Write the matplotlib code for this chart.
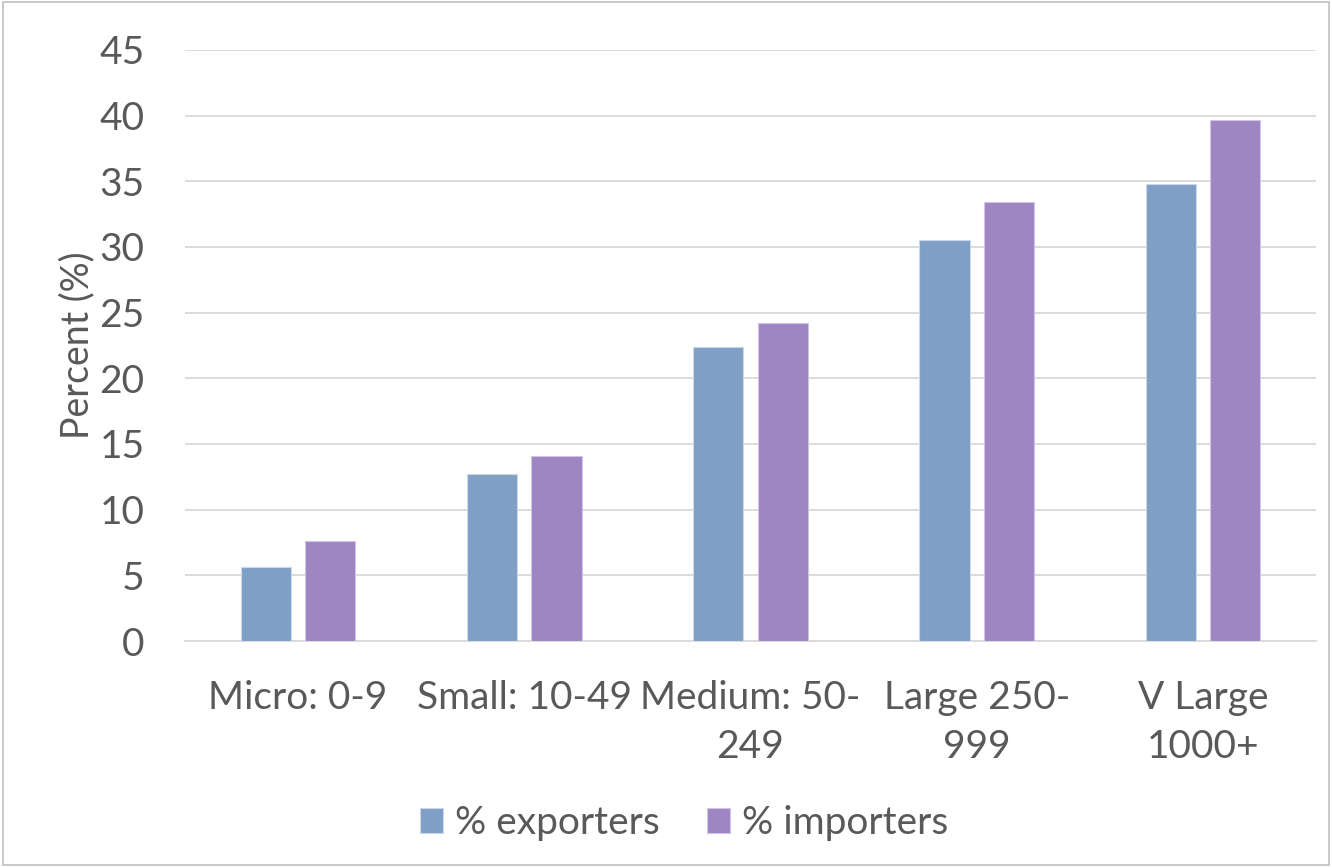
import numpy as np
import matplotlib.pyplot as plt
from matplotlib.patches import Rectangle

categories = ['Micro: 0-9', 'Small: 10-49', 'Medium: 50-\n249', 'Large 250-\n999', 'V Large\n1000+']
exporters = [5.6, 12.7, 22.4, 30.5, 34.8]
importers = [7.6, 14.1, 24.2, 33.4, 39.7]

TEXT = '#595959'
plt.rcParams['font.family'] = ['Lato', 'DejaVu Sans']

fig = plt.figure(figsize=(13.32, 8.67), dpi=100)
ax = fig.add_axes([185 / 1332, 1 - 641 / 867, 1131 / 1332, 591 / 867])

x = np.arange(len(categories))
w = 0.222
gap = 0.062
ax.bar(x - (w + gap) / 2, exporters, w, color='#7F9FC4', edgecolor='#C9D8EA', linewidth=0.8,
       label='% exporters', zorder=3)
ax.bar(x + (w + gap) / 2, importers, w, color='#9E86C2', edgecolor='#D2C4E6', linewidth=0.8,
       label='% importers', zorder=3)

ax.set_xlim(-0.5, 4.5)
ax.set_ylim(0, 45)
ax.set_yticks(np.arange(0, 46, 5))
ax.grid(axis='y', color='#D9D9D9', linewidth=1.3, zorder=0)
for s in ['top', 'right', 'left']:
    ax.spines[s].set_visible(False)
ax.spines['bottom'].set_color('#D9D9D9')
ax.spines['bottom'].set_linewidth(1.3)
ax.tick_params(length=0, labelsize=28, labelcolor=TEXT)
ax.tick_params(axis='y', pad=29)
ax.tick_params(axis='x', pad=28)
ax.set_xticks(x)
ax.set_xticklabels(categories, linespacing=1.45)
ax.set_ylabel('Percent (%)', fontsize=27, color=TEXT, labelpad=3)

ax.legend(loc='center', bbox_to_anchor=(684 / 1332, 1 - 823 / 867), bbox_transform=fig.transFigure,
          ncol=2, frameon=False, fontsize=28, labelcolor=TEXT, handlelength=0.6, handleheight=0.6,
          handletextpad=0.3, columnspacing=1.2)

fig.patches.append(Rectangle((0.002, 0.002), 0.996, 0.996, transform=fig.transFigure,
                             fill=False, edgecolor='#BFBFBF', linewidth=1.2))

fig.savefig('out.png', dpi=100, facecolor='white')
